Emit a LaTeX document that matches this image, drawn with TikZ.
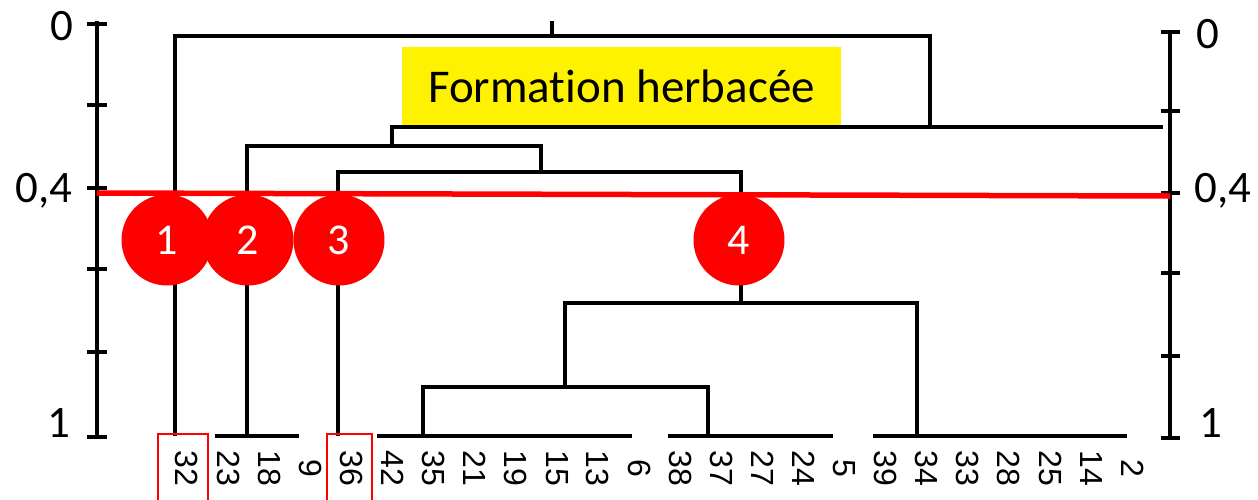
\documentclass[tikz,border=0pt]{standalone}
\usepackage{fontspec}
\setmainfont{Carlito}[Ligatures=NoCommon]
\newfontfamily\leaffont{Liberation Sans}
\begin{document}
\begin{tikzpicture}[x=1pt,y=-1pt,
  dend/.style={line width=3.6pt, line join=miter},
  axisline/.style={line width=4pt},
  axistick/.style={line width=3.5pt},
  axislabel/.style={font=\fontsize{45}{45}\selectfont, anchor=base, inner sep=0pt},
  leaflabel/.style={font=\leaffont\fontsize{32}{32}\selectfont, rotate=-90, inner sep=0pt},
  cutline/.style={red, line width=5.5pt},
  groupdisc/.style={circle, fill=red, minimum size=91pt, inner sep=0pt, text=white, font=\fontsize{44}{44}\selectfont},
  markbox/.style={draw=red, line width=1.8pt},
  titlebox/.style={fill=yellow, minimum width=439pt, minimum height=78pt, inner sep=0pt, font=\fontsize{47}{47}\selectfont}
]
\useasboundingbox (0,0) rectangle (1258,499);
\fill[white] (0,0) rectangle (1258,499);

% ---- junction and leaf coordinates
\coordinate (root) at (552,21);
\coordinate (j0) at (552,36);
\coordinate (j1) at (930,127);
\coordinate (rend) at (1163,127);
\coordinate (j2) at (392,146);
\coordinate (j3) at (541,172);
\coordinate (j4) at (741,303);
\coordinate (j5) at (565,387);
\coordinate (s32) at (175,436);
\coordinate (s23) at (247,436);
\coordinate (s36) at (338,436);
\coordinate (s35) at (423,436);
\coordinate (s37) at (708,436);
\coordinate (s34) at (917,436);

% ---- dendrogram
\draw[dend] (j0) -- (root);
\draw[dend] (s32) |- (j0) -| (j1);
\draw[dend] (j2) |- (rend);
\draw[dend] (s23) |- (j2) -| (j3);
\draw[dend] (s36) |- (j3) -| (j4);
\draw[dend] (j5) |- (j4) -| (s34);
\draw[dend] (s35) |- (j5) -| (s37);

% ---- base segments
\coordinate (b1a) at (215,436); \coordinate (b1b) at (299,436);
\coordinate (b2a) at (377,436); \coordinate (b2b) at (632,436);
\coordinate (b3a) at (668,436); \coordinate (b3b) at (833,436);
\coordinate (b4a) at (873,436); \coordinate (b4b) at (1127,436);
\draw[dend] (b1a) -- (b1b);
\draw[dend] (b2a) -- (b2b);
\draw[dend] (b3a) -- (b3b);
\draw[dend] (b4a) -- (b4b);

% ---- left axis
\coordinate (la0) at (97,21);
\coordinate (la1) at (97,438);
\draw[axisline] (la0) -- (la1);
\foreach \y in {24,105,188,269,352,437} {
  \draw[axistick] (87,\y) -- (107,\y);
}
\node[axislabel] (l0) at (62,40) {0};
\node[axislabel] (l04) at (44,202) {0,4};
\node[axislabel] (l1) at (59,437) {1};

% ---- right axis
\coordinate (ra0) at (1170,30);
\coordinate (ra1) at (1170,440);
\draw[axisline] (ra0) -- (ra1);
\foreach \y in {32,111,193,273,356,438} {
  \draw[axistick] (1161,\y) -- (1180,\y);
}
\node[axislabel] (r0) at (1208,48) {0};
\node[axislabel] (r04) at (1223,202) {0,4};
\node[axislabel] (r1) at (1211,437) {1};

% ---- cut line
\coordinate (cutL) at (97,193);
\coordinate (cutR) at (1170,196);
\draw[cutline] (cutL) -- (cutR);

% ---- group discs
\node[groupdisc] (g1) at (167,240) {1};
\node[groupdisc] (g2) at (248,240) {2};
\node[groupdisc] (g3) at (339,240) {3};
\node[groupdisc] (g4) at (739,240) {4};

% ---- title
\node[titlebox] (title) at (621.5,86) {Formation herbacée};

% ---- leaf labels
\foreach \lab [count=\i from 0] in {32,23,18,9,36,42,35,21,19,15,13,6,38,37,27,24,5,39,34,33,28,25,14,2} {
  \node[leaflabel] (leaf\lab) at ({187+\i*41.1},468) {\lab};
}

% ---- marked leaves
\draw[markbox] (158,434) rectangle (208,520);
\draw[markbox] (327,434) rectangle (372,520);
\end{tikzpicture}
\end{document}
